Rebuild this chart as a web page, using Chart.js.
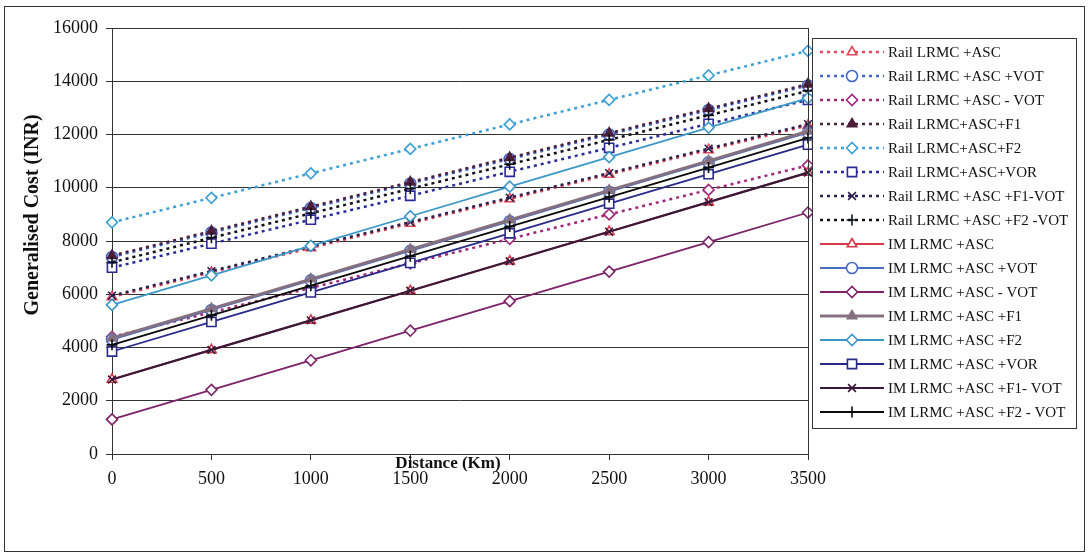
<!DOCTYPE html>
<html>
<head>
<meta charset="utf-8">
<script src="https://cdn.jsdelivr.net/npm/chart.js@4"></script>
<style>
  html, body { margin: 0; padding: 0; background: #fff; }
  #wrap { width: 1089px; height: 558px; position: relative; }
</style>
</head>
<body>
<div id="wrap"><canvas id="myChart"></canvas></div>
<script>
// distance categories (km) and cost ticks (INR)
const distances = ["0", "500", "1000", "1500", "2000", "2500", "3000", "3500"];
const costTicks = [0, 2000, 4000, 6000, 8000, 10000, 12000, 14000, 16000];

// rail options
const railAsc      = [5900, 6820, 7740, 8660, 9580, 10500, 11420, 12340];
const railAscVot   = [7400, 8320, 9240, 10160, 11080, 12000, 12920, 13840];
const railAscMinus = [4400, 5320, 6240, 7160, 8080, 9000, 9920, 10840];
const railF1       = [7450, 8370, 9290, 10210, 11130, 12050, 12970, 13890];
const railF2       = [8700, 9620, 10540, 11460, 12380, 13300, 14220, 15140];
const railVor      = [7000, 7900, 8800, 9700, 10600, 11500, 12400, 13300];
const railF1Vot    = [5950, 6870, 7790, 8710, 9630, 10550, 11470, 12390];
const railF2Vot    = [7200, 8120, 9040, 9960, 10880, 11800, 12720, 13640];

// IM options
const imAsc      = [2800, 3910, 5020, 6130, 7240, 8350, 9460, 10570];
const imAscVot   = [4300, 5410, 6520, 7630, 8740, 9850, 10960, 12070];
const imAscMinus = [1300, 2410, 3520, 4630, 5740, 6850, 7960, 9070];
const imF1       = [4350, 5460, 6570, 7680, 8790, 9900, 11010, 12120];
const imF2       = [5600, 6710, 7820, 8930, 10040, 11150, 12260, 13370];
const imVor      = [3850, 4960, 6070, 7180, 8290, 9400, 10510, 11620];
const imF1Vot    = [2800, 3910, 5020, 6130, 7240, 8350, 9460, 10570];
const imF2Vot    = [4100, 5210, 6320, 7430, 8540, 9650, 10760, 11870];

const seriesNames = [
    "Rail LRMC +ASC",
    "Rail LRMC +ASC +VOT",
    "Rail LRMC +ASC - VOT",
    "Rail LRMC+ASC+F1",
    "Rail LRMC+ASC+F2",
    "Rail LRMC+ASC+VOR",
    "Rail LRMC +ASC +F1-VOT",
    "Rail LRMC +ASC +F2 -VOT",
    "IM LRMC +ASC",
    "IM LRMC +ASC +VOT",
    "IM LRMC +ASC - VOT",
    "IM LRMC +ASC +F1",
    "IM LRMC +ASC +F2",
    "IM LRMC +ASC +VOR",
    "IM LRMC +ASC +F1- VOT",
    "IM LRMC +ASC +F2 - VOT",
];
const seriesData = [
    railAsc, railAscVot, railAscMinus, railF1, railF2, railVor, railF1Vot, railF2Vot,
    imAsc, imAscVot, imAscMinus, imF1, imF2, imVor, imF1Vot, imF2Vot,
];

// colour, marker, filled marker?
const styles = [
    ["#e5475a", "triangle", false],
    ["#3f66c8", "circle", false],
    ["#a0287c", "rectRot", false],
    ["#4b1e3c", "triangle", true],
    ["#3ca0d4", "rectRot", false],
    ["#2b2a9a", "rect", false],
    ["#2a2050", "crossRot", false],
    ["#101018", "cross", false],
    ["#d8384a", "triangle", false],
    ["#4a6cc0", "circle", false],
    ["#7c2268", "rectRot", false],
    ["#857080", "triangle", true],
    ["#3b98c8", "rectRot", false],
    ["#2a2a8a", "rect", false],
    ["#3a1838", "crossRot", false],
    ["#0a0a0a", "cross", false],
];

const serif = "'Liberation Serif', 'Times New Roman', serif";

const datasets = seriesData.map((d, i) => {
    const [color, shape, filled] = styles[i];
    const rail = i < 8;
    return {
        label: seriesNames[i],
        data: d,
        order: seriesData.length - i, // later series painted on top
        borderColor: color,
        backgroundColor: color,
        borderWidth: rail ? 2.5 : (i === 11 ? 3 : (i === 14 ? 2.2 : 1.8)),
        borderDash: rail ? [3, 4] : [],
        pointStyle: shape,
        pointRadius: shape === "rect" ? 6.5 : 5.5,
        pointBorderWidth: 1.6,
        pointBorderColor: color,
        pointBackgroundColor: filled ? color : "#fff",
        tension: 0,
        fill: false,
    };
});

// frame, right edge of plot, axis titles and the legend box
const decorations = {
    id: "decorations",
    afterDraw(chart) {
        const ctx = chart.ctx;
        const area = chart.chartArea;
        ctx.save();

        ctx.strokeStyle = "#333";
        ctx.lineWidth = 1;
        ctx.beginPath();
        ctx.moveTo(Math.round(area.right) + 0.5, area.top);
        ctx.lineTo(Math.round(area.right) + 0.5, area.bottom);
        ctx.stroke();

        ctx.strokeRect(4.5, 6.5, 1080, 545);

        ctx.fillStyle = "#111";
        ctx.font = "bold 17px " + serif;
        ctx.textAlign = "center";
        ctx.textBaseline = "middle";
        ctx.fillText("Distance (Km)", 448, 464);

        ctx.save();
        ctx.translate(33, 215);
        ctx.rotate(-Math.PI / 2);
        ctx.font = "bold 20px " + serif;
        ctx.fillText("Generalised Cost (INR)", 0, 0);
        ctx.restore();

        // legend
        const bx = 812, by = 38, bw = 264, bh = 390;
        ctx.fillStyle = "#fff";
        ctx.fillRect(bx, by, bw, bh);
        ctx.strokeStyle = "#333";
        ctx.strokeRect(bx + 0.5, by + 0.5, bw, bh);

        ctx.font = "15px " + serif;
        ctx.textAlign = "left";
        chart.data.datasets.forEach((ds, i) => {
            const y = by + 14 + i * 24;
            ctx.strokeStyle = ds.borderColor;
            ctx.lineWidth = ds.borderWidth;
            ctx.setLineDash(ds.borderDash);
            ctx.beginPath();
            ctx.moveTo(bx + 8, y);
            ctx.lineTo(bx + 72, y);
            ctx.stroke();
            ctx.setLineDash([]);
            ctx.fillStyle = ds.pointBackgroundColor;
            ctx.strokeStyle = ds.pointBorderColor;
            ctx.lineWidth = ds.pointBorderWidth;
            Chart.helpers.drawPoint(ctx, {
                pointStyle: ds.pointStyle,
                radius: ds.pointRadius,
                rotation: 0,
                borderWidth: ds.pointBorderWidth,
            }, bx + 40, y);
            ctx.fillStyle = "#111";
            ctx.fillText(ds.label, bx + 76, y + 1);
        });
        ctx.restore();
    },
};

Chart.defaults.font.family = serif;
Chart.defaults.font.size = 18;
Chart.defaults.color = "#111";

const config = {
    type: "line",
    data: {
        labels: distances,
        datasets: datasets,
    },
    options: {
        responsive: true,
        maintainAspectRatio: false,
        animation: false,
        layout: { padding: { top: 28, right: 281, left: 0, bottom: 0 } },
        plugins: {
            legend: { display: false },
            tooltip: { enabled: false },
        },
        scales: {
            x: {
                grid: { drawOnChartArea: false, color: "#333", tickLength: 6 },
                border: { color: "#333" },
                ticks: { padding: 8, maxRotation: 0, autoSkip: false },
                afterFit: (s) => { s.height = 104; },
            },
            y: {
                min: 0,
                max: 16000,
                grid: { color: "#333", tickLength: 6 },
                border: { color: "#333" },
                ticks: { padding: 8, callback: (v) => String(v) },
                afterBuildTicks: (s) => { s.ticks = costTicks.map((v) => ({ value: v })); },
                afterFit: (s) => { s.width = 112; },
            },
        },
    },
    plugins: [decorations],
};

var myChart = new Chart(document.getElementById("myChart"), config);
</script>
</body>
</html>
